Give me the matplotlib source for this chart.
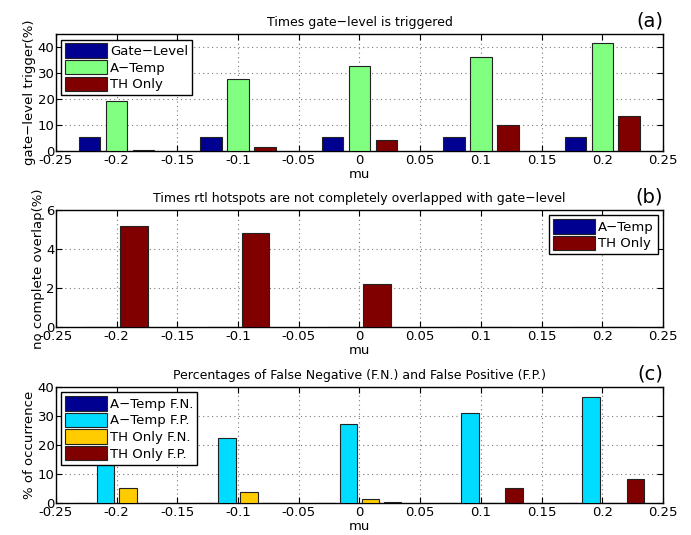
import matplotlib
matplotlib.use("Agg")
import matplotlib.pyplot as plt
import numpy as np

# mu values (group centres)
mu = [-0.2, -0.1, 0.0, 0.1, 0.2]

# (a) times gate-level is triggered
gate_level = [5.2, 5.2, 5.2, 5.2, 5.2]
a_temp_trig = [19.3, 27.6, 32.6, 36.1, 41.6]
th_only_trig = [0.3, 1.5, 4.2, 10.0, 13.5]

# (b) no complete overlap
a_temp_ovl = [0, 0, 0, 0, 0]
th_only_ovl = [5.2, 4.8, 2.2, 0, 0]

# (c) false negative / false positive
a_temp_fn = [0, 0, 0, 0, 0]
a_temp_fp = [17.0, 22.4, 27.3, 31.0, 36.5]
th_only_fn = [5.0, 3.7, 1.2, 0, 0]
th_only_fp = [0, 0, 0.3, 5.0, 8.3]

navy = '#000090'
green = '#80ff80'
darkred = '#800000'
cyan = '#00dcff'
yellow = '#ffcc00'

plt.rcParams['font.family'] = 'DejaVu Sans'
plt.rcParams['font.size'] = 9.5
plt.rcParams['axes.unicode_minus'] = True

fig = plt.figure(figsize=(6.91, 5.35), dpi=100)
L, R = 0.081, 0.9595
boxes = [(0.718, 0.936), (0.389, 0.6075), (0.060, 0.2766)]


def grouped(ax, series, colors, labels):
    # matlab-style grouped bars
    nb = len(series)
    gw = min(0.8, nb / (nb + 1.5)) * 0.1
    w = gw / nb * 0.8
    x = np.array(mu)
    for i, (vals, c, lab) in enumerate(zip(series, colors, labels)):
        off = (i - (nb - 1) / 2) * gw / nb
        ax.bar(x + off, vals, width=w, color=c, edgecolor='#222222',
               linewidth=0.8, label=lab, zorder=3)


def style(ax, ylim, yticks, ylabel, title, tag):
    ax.set_xlim(-0.25, 0.25)
    ax.set_ylim(*ylim)
    xt = np.arange(-0.25, 0.2501, 0.05)
    ax.set_xticks(xt)
    ax.set_xticklabels(['%g' % (round(v, 2) + 0.0) for v in xt])
    ax.set_yticks(yticks)
    ax.grid(True, linestyle=(0, (1, 3)), color='#777777', linewidth=0.8, zorder=0)
    ax.tick_params(direction='in', top=True, right=True, length=4, pad=2)
    ax.tick_params(axis='y', pad=1)
    ax.set_xlabel('mu', labelpad=1)
    ax.set_ylabel(ylabel, labelpad=1)
    ax.set_title(title, fontsize=9, pad=6)
    ax.text(1.0, 1.03, tag, transform=ax.transAxes, ha='right', va='bottom',
            fontsize=14)
    for s in ax.spines.values():
        s.set_linewidth(1.0)


def legend(ax, loc):
    lg = ax.legend(loc=loc, fancybox=False, edgecolor='black', framealpha=1,
                   handlelength=3.2, handleheight=1.3, borderpad=0.3,
                   labelspacing=0.15, handletextpad=0.2, borderaxespad=0.4,
                   fontsize=9.5)
    lg.get_frame().set_linewidth(1.0)
    lg.set_zorder(5)


b, t = boxes[0]
ax1 = fig.add_axes([L, b, R - L, t - b])
grouped(ax1, [gate_level, a_temp_trig, th_only_trig], [navy, green, darkred],
        ['Gate\u2212Level', 'A\u2212Temp', 'TH Only'])
style(ax1, (0, 45), [0, 10, 20, 30, 40], 'gate\u2212level trigger(%)',
      'Times gate\u2212level is triggered', '(a)')
legend(ax1, 'upper left')

b, t = boxes[1]
ax2 = fig.add_axes([L, b, R - L, t - b])
grouped(ax2, [a_temp_ovl, th_only_ovl], [navy, darkred],
        ['A\u2212Temp', 'TH Only'])
style(ax2, (0, 6), [0, 2, 4, 6], 'no complete overlap(%)',
      'Times rtl hotspots are not completely overlapped with gate\u2212level', '(b)')
legend(ax2, 'upper right')

b, t = boxes[2]
ax3 = fig.add_axes([L, b, R - L, t - b])
grouped(ax3, [a_temp_fn, a_temp_fp, th_only_fn, th_only_fp],
        [navy, cyan, yellow, darkred],
        ['A\u2212Temp F.N.', 'A\u2212Temp F.P.', 'TH Only F.N.', 'TH Only F.P.'])
style(ax3, (0, 40), [0, 10, 20, 30, 40], '% of occurrence',
      'Percentages of False Negative (F.N.) and False Positive (F.P.)', '(c)')
legend(ax3, 'upper left')

fig.savefig('out.png', dpi=100)
